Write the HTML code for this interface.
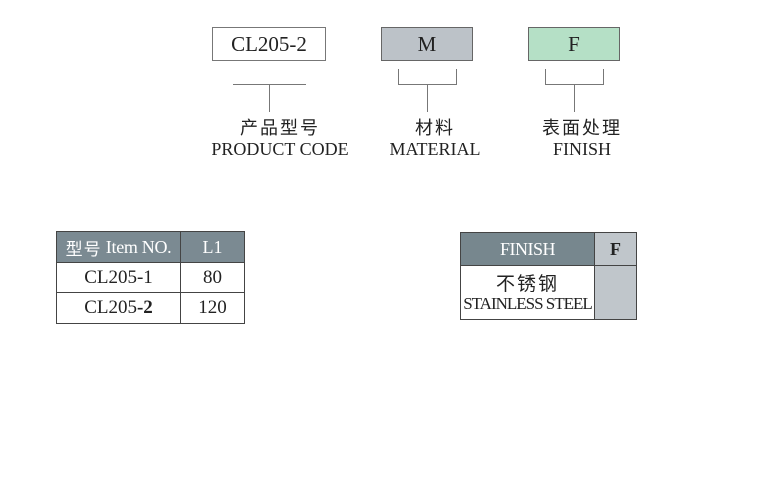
<!DOCTYPE html>
<html><head><meta charset="utf-8"><style>
body{margin:0;width:778px;height:500px;background:#fff;position:relative;overflow:hidden;font-family:"Liberation Serif","Noto Serif CJK SC",serif;color:#222}
.a{position:absolute;box-sizing:border-box}
.c{display:flex;align-items:center;justify-content:center}
.ln{position:absolute;background:#777}
.lbl{position:absolute;text-align:center;width:200px;font-size:18px;line-height:22px}
.cn{font-family:"Noto Sans CJK SC",sans-serif;font-size:18px;letter-spacing:2px}
</style></head><body>
<div class="a c" style="left:212px;top:27px;width:114px;height:34px;border:1px solid #777;font-size:21px">CL205-2</div>
<div class="a c" style="left:381px;top:27px;width:92px;height:34px;border:1px solid #666;background:#bcc2c8;font-size:21px">M</div>
<div class="a c" style="left:528px;top:27px;width:92px;height:34px;border:1px solid #666;background:#b5e0c6;font-size:21px">F</div>

<div class="ln" style="left:233px;top:84px;width:73px;height:1px"></div>
<div class="ln" style="left:269px;top:84px;width:1px;height:28px"></div>

<div class="ln" style="left:398px;top:69px;width:1px;height:16px"></div>
<div class="ln" style="left:456px;top:69px;width:1px;height:16px"></div>
<div class="ln" style="left:398px;top:84px;width:59px;height:1px"></div>
<div class="ln" style="left:427px;top:84px;width:1px;height:28px"></div>

<div class="ln" style="left:545px;top:69px;width:1px;height:16px"></div>
<div class="ln" style="left:603px;top:69px;width:1px;height:16px"></div>
<div class="ln" style="left:545px;top:84px;width:59px;height:1px"></div>
<div class="ln" style="left:574px;top:84px;width:1px;height:28px"></div>

<div class="lbl" style="left:180px;top:116px"><div class="cn">产品型号</div><div>PRODUCT CODE</div></div>
<div class="lbl" style="left:335px;top:116px"><div class="cn">材料</div><div>MATERIAL</div></div>
<div class="lbl" style="left:482px;top:116px"><div class="cn">表面处理</div><div>FINISH</div></div>

<!-- left table -->
<div class="a" style="left:56px;top:231px;width:189px;height:93px;border:1px solid #444"></div>
<div class="a c" style="left:57px;top:232px;width:123px;height:30px;background:#7b8a92;color:#fff;font-size:18px;letter-spacing:-0.3px"><span class="cn" style="font-size:17px;letter-spacing:1px;color:#fff">型号</span>&nbsp;Item NO.</div>
<div class="a c" style="left:181px;top:232px;width:63px;height:30px;background:#7b8a92;color:#fff;font-size:18px">L1</div>
<div class="ln" style="left:180px;top:232px;width:1px;height:91px;background:#444"></div>
<div class="ln" style="left:57px;top:262px;width:187px;height:1px;background:#444"></div>
<div class="ln" style="left:57px;top:292px;width:187px;height:1px;background:#444"></div>
<div class="a c" style="left:57px;top:263px;width:123px;height:29px;font-size:19px">CL205-1</div>
<div class="a c" style="left:181px;top:263px;width:63px;height:29px;font-size:19px">80</div>
<div class="a c" style="left:57px;top:293px;width:123px;height:30px;font-size:19px">CL205<b>-2</b></div>
<div class="a c" style="left:181px;top:293px;width:63px;height:30px;font-size:19px">120</div>

<!-- right table -->
<div class="a" style="left:460px;top:232px;width:177px;height:88px;border:1px solid #444"></div>
<div class="a c" style="left:461px;top:233px;width:133px;height:32px;background:#77878e;color:#fff;font-size:18px;letter-spacing:-0.5px">FINISH</div>
<div class="a c" style="left:595px;top:233px;width:41px;height:86px;background:#c0c6cb"></div>
<div class="a c" style="left:595px;top:233px;width:41px;height:32px;font-size:18px;font-weight:bold">F</div>
<div class="ln" style="left:594px;top:233px;width:1px;height:86px;background:#444"></div>
<div class="ln" style="left:461px;top:265px;width:175px;height:1px;background:#444"></div>
<div class="a" style="left:461px;top:272px;width:133px;text-align:center;line-height:21px"><div class="cn" style="font-size:19px">不锈钢</div><div style="font-size:17px;letter-spacing:-1px">STAINLESS STEEL</div></div>
</body></html>
